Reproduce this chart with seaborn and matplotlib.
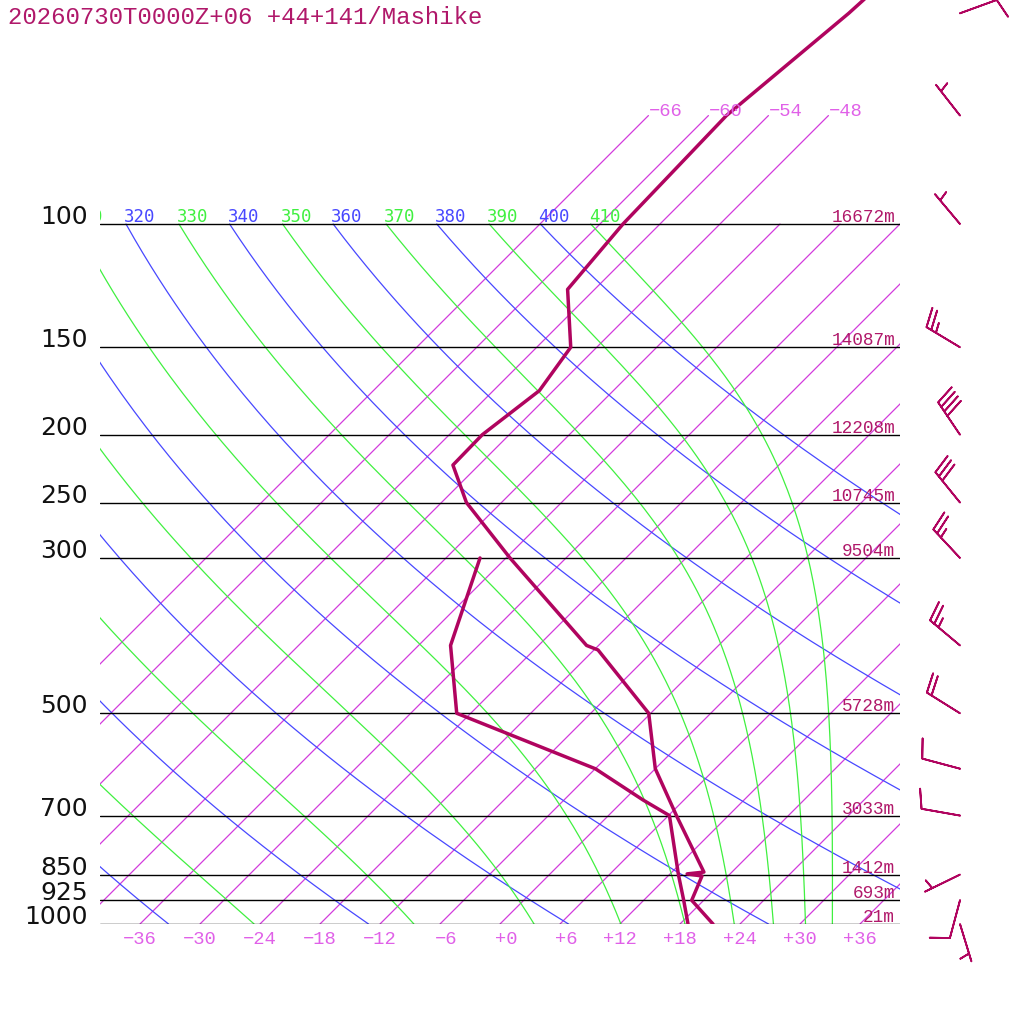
import numpy as np
import pandas as pd
import matplotlib
matplotlib.use('Agg')
import matplotlib.pyplot as plt
import seaborn as sns

title = '20260730T0000Z+06 +44+141/Mashike'

# temperature profile (hPa, degC)
temp_p = [47, 50, 70, 100, 124, 150, 173, 200, 221, 250, 300, 400, 406,
          500, 600, 700, 843, 848, 854, 925, 1000]
temp_t = [-56.0, -56.2, -58.2, -57.7, -56.7, -50.6, -49.4, -50.7, -50.6,
          -45.5, -35.6, -19.2, -17.6, -6.2, 0.0, 6.8, 15.2, 13.7, 15.4,
          16.8, 21.3]

# dew point profile
dew_p = [300, 400, 500, 600, 665, 700, 850, 925, 1000]
dew_t = [-38.6, -32.8, -25.4, -6.0, 1.9, 6.1, 12.9, 16.0, 18.8]

# standard levels with geopotential heights
levels = [100, 150, 200, 250, 300, 500, 700, 850, 925, 1000]
heights = ['16672m', '14087m', '12208m', '10745m', '9504m', '5728m',
           '3033m', '1412m', '693m', '21m']

# winds (direction from, knots)
wind_p = [50, 70, 100, 150, 200, 250, 300, 400, 500, 600, 700, 850, 925, 1000]
wind_dir = [70, 322, 320, 301, 326, 321, 317, 310, 302, 285, 280, 244, 195, 163]
wind_kt = [10, 5, 5, 25, 40, 30, 25, 25, 20, 10, 10, 5, 10, 5]

isotherms = list(range(-66, 37, 6))
dry_theta = list(range(240, 401, 20))
moist_thetae = list(range(250, 411, 20))

RED = '#b0045f'
ISO = '#d23cdc'
ISO_TXT = '#e060e8'
BLUE = '#4848ff'
GREEN = '#40f040'
HGT = '#b0186a'
MONO = 'Liberation Mono'


def yy(p):
    return 70 * np.log10(1000 / np.asarray(p, float))


def xx(t, p):
    return np.asarray(t, float) + yy(p)


def theta_e(tk, p):
    es = 6.112 * np.exp(17.67 * (tk - 273.15) / (tk - 29.65))
    r = 622 * es / (p - es)
    th = tk * (1000 / p) ** (0.2854 * (1 - 0.00028 * r))
    te = th * np.exp((3.376 / tk - 0.00254) * r * (1 + 0.00081 * r))
    return np.where(es < 0.5 * p, te, 1e4 + tk)


def moist_line(te0, plev):
    tgrid = np.linspace(150, 330, 3000)
    out = []
    for p in plev:
        out.append(np.interp(te0, theta_e(tgrid, p), tgrid) - 273.15)
    return np.array(out)


def theta_label(x, txt, color):
    if x < -40:
        # only the tail of the label pokes into the frame
        ax.text(-39.8, yy(100) + 0.2, txt[-1], ha='right', va='baseline',
                fontsize=12.5, family='DejaVu Sans Mono', color=color, clip_on=True)
    else:
        ax.text(x - 0.2, yy(100) + 0.2, txt, ha='left', va='baseline',
                fontsize=12.5, family='DejaVu Sans Mono', color=color)


sns.set_style('white')

fig = plt.figure(figsize=(10.24, 10.24), dpi=100)
ax = fig.add_axes([100 / 1024, 100 / 1024, 800 / 1024, 924 / 1024])

plev = np.linspace(1000, 100, 181)

# isotherms
for t in isotherms:
    ptop = 70 if t <= -48 else 100
    pp = np.array([1000, ptop])
    ax.plot(xx([t, t], pp), yy(pp), color=ISO, lw=0.9)
    if t <= -48:
        ax.text(xx(t, 70), yy(70), f'{t:+d}'.replace('-', '\u2212'),
                ha='left', va='baseline', fontsize=13.5, family=MONO, color=ISO_TXT)
    if t >= -36:
        ax.text(t + 1.7, -2.0, f'{t:+d}'.replace('-', '\u2212'),
                ha='right', va='baseline', fontsize=13.5, family=MONO,
                color=ISO_TXT, clip_on=False)

# dry adiabats
for th in dry_theta:
    tt = th * (plev / 1000) ** 0.2857 - 273.15
    ax.plot(xx(tt, plev), yy(plev), color=BLUE, lw=0.9)
    if th >= 320:
        theta_label(float(xx(tt[-1], 100)), str(th), BLUE)

# moist adiabats
for te0 in moist_thetae:
    tt = moist_line(te0, plev)
    ax.plot(xx(tt, plev), yy(plev), color=GREEN, lw=0.9)
    if te0 >= 310:
        theta_label(float(xx(tt[-1], 100)), str(te0), GREEN)

# pressure levels
for p, h in zip(levels, heights):
    ax.plot([-40, 40], [yy(p), yy(p)], color='black', lw=1.0)
    ax.text(-41.2, yy(p), str(p), ha='right', va='baseline', fontsize=18,
            family='DejaVu Sans', color='#111111', clip_on=False)
    ax.text(39.5, yy(p) + 0.2, h, ha='right', va='baseline', fontsize=12.8,
            family=MONO, color=HGT)

# sounding
df_t = pd.DataFrame({'x': xx(temp_t, temp_p), 'y': yy(temp_p)})
df_d = pd.DataFrame({'x': xx(dew_t, dew_p), 'y': yy(dew_p)})
sns.lineplot(data=df_t, x='x', y='y', sort=False, estimator=None,
             color=RED, lw=2.5, ax=ax)
sns.lineplot(data=df_d, x='x', y='y', sort=False, estimator=None,
             color=RED, lw=2.5, ax=ax)

# wind barbs
wd = np.radians(wind_dir)
spd = np.array(wind_kt, float)
u = -spd * np.sin(wd)
v = -spd * np.cos(wd)
ax.barbs(np.full(len(wind_p), 46.0), yy(wind_p), u, v, length=7.5,
         color=RED, linewidth=1.3, clip_on=False,
         sizes=dict(spacing=0.14, height=0.5))

ax.set_xlim(-40, 40)
ax.set_ylim(0, 92.4)
ax.axis('off')

fig.text(8 / 1024, 1 - 6 / 1024, title, ha='left', va='top', fontsize=17.3,
         family=MONO, color=HGT)

fig.savefig('out.png', dpi=100, facecolor='white')
